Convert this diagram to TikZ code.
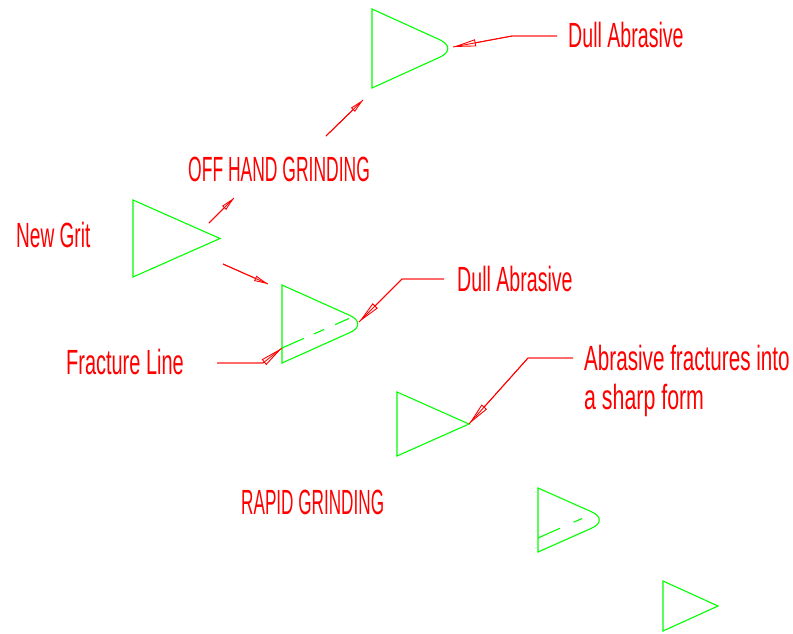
\documentclass[tikz,border=0pt]{standalone}
\usepackage{fontspec}
\setmainfont{Liberation Sans}
\usepackage{graphicx}
\usetikzlibrary{arrows.meta,calc}
\definecolor{cadgreen}{RGB}{0,255,0}
\definecolor{cadred}{RGB}{255,0,0}
% narrow CAD-style lettering
\newcommand{\cadtxt}[2]{\scalebox{#1}[1]{#2}}
\begin{document}
\begin{tikzpicture}[x=1pt,y=-1pt,
  grit/.style={draw=cadgreen, line width=1.1pt, line join=miter},
  fracture/.style={draw=cadgreen, line width=1.1pt},
  leader/.style={draw=cadred, line width=0.9pt, -{Triangle[open,length=23pt,width=7pt]},
    postaction={draw=cadred, line width=0.9pt, arrows=-}},
  flow/.style={draw=cadred, line width=0.9pt, -{Triangle[open,length=14pt,width=5.5pt]},
    postaction={draw=cadred, line width=0.9pt, arrows=-}},
  lbl/.style={text=cadred, font=\fontsize{35}{42}\selectfont, inner sep=0pt, anchor=base west}]
\useasboundingbox (0,0) rectangle (793,633);

% ---- grit corners ----
% new grit
\coordinate (nA) at (133,200); \coordinate (nB) at (133,277); \coordinate (nT) at (220,238.5);
\draw[grit] (nA) -- (nT) -- (nB) -- cycle;

% dull grit after off-hand grinding
\coordinate (uA) at (372,9); \coordinate (uB) at (372,88); \coordinate (uT) at (459,48.5);
\draw[grit] (uA) -- ($(uT)!21pt!(uA)$) .. controls ($(uT)!9.4pt!(uA)$) and ($(uT)!9.4pt!(uB)$) .. ($(uT)!21pt!(uB)$) -- (uB) -- cycle;

% dull grit with fracture line
\coordinate (mA) at (282,285); \coordinate (mB) at (282,363); \coordinate (mT) at (369,324);
\draw[grit] (mA) -- ($(mT)!21pt!(mA)$) .. controls ($(mT)!9.4pt!(mA)$) and ($(mT)!9.4pt!(mB)$) .. ($(mT)!21pt!(mB)$) -- (mB) -- cycle;
\coordinate (mF1) at (282,348); \coordinate (mF2) at (349,318.5);
\draw[fracture, dash pattern=on 24pt off 11pt on 11pt off 12pt on 30pt] (mF1) -- (mF2);

% fractured, sharp again
\coordinate (sA) at (397,392); \coordinate (sB) at (397,456); \coordinate (sT) at (469,424);
\draw[grit] (sA) -- (sT) -- (sB) -- cycle;

% dull again with fracture line
\coordinate (rA) at (538,488); \coordinate (rB) at (538,552); \coordinate (rT) at (610,520);
\draw[grit] (rA) -- ($(rT)!20pt!(rA)$) .. controls ($(rT)!9pt!(rA)$) and ($(rT)!9pt!(rB)$) .. ($(rT)!20pt!(rB)$) -- (rB) -- cycle;
\coordinate (rF1) at (538,538); \coordinate (rF2) at (582,518.5);
\draw[fracture, dash pattern=on 24pt off 15pt on 20pt] (rF1) -- (rF2);

% smaller sharp grit
\coordinate (kA) at (663,581); \coordinate (kB) at (663,631); \coordinate (kT) at (718,606);
\draw[grit] (kA) -- (kT) -- (kB) -- cycle;

% ---- labels ----
\node[lbl] (dull1)    at (568,47)  {\cadtxt{0.56}{Dull Abrasive}};
\node[lbl] (offhand)  at (188,181) {\cadtxt{0.50}{OFF HAND GRINDING}};
\node[lbl] (newgrit)  at (16,247)  {\cadtxt{0.545}{New Grit}};
\node[lbl] (dull2)    at (457,291) {\cadtxt{0.56}{Dull Abrasive}};
\node[lbl] (fracture) at (66,374)  {\cadtxt{0.57}{Fracture Line}};
\node[lbl] (sharp1)   at (584,370) {\cadtxt{0.59}{Abrasive fractures into}};
\node[lbl] (sharp2)   at (584,409) {\cadtxt{0.61}{a sharp form}};
\node[lbl] (rapid)    at (241,514) {\cadtxt{0.49}{RAPID GRINDING}};

% ---- leaders ----
\coordinate (d1a) at (557,36);  \coordinate (d1b) at (512,36);  \coordinate (d1t) at (453,47);
\draw[leader] (d1a) -- (d1b) -- (d1t);
\coordinate (d2a) at (444,279); \coordinate (d2b) at (402,279); \coordinate (d2t) at (359,322);
\draw[leader] (d2a) -- (d2b) -- (d2t);
\coordinate (f1a) at (217,363); \coordinate (f1b) at (263,363);
\draw[leader] (f1a) -- (f1b) -- (mF1);
\coordinate (s1a) at (573,358); \coordinate (s1b) at (528,358);
\draw[leader] (s1a) -- (s1b) -- (sT);

% ---- progress arrows ----
\coordinate (g1) at (209,223); \coordinate (g2) at (234,198);
\draw[flow] (g1) -- (g2);
\coordinate (g3) at (223,264); \coordinate (g4) at (268,284);
\draw[flow] (g3) -- (g4);
\coordinate (o1) at (326,136); \coordinate (o2) at (363,100);
\draw[flow] (o1) -- (o2);
\end{tikzpicture}
\end{document}
